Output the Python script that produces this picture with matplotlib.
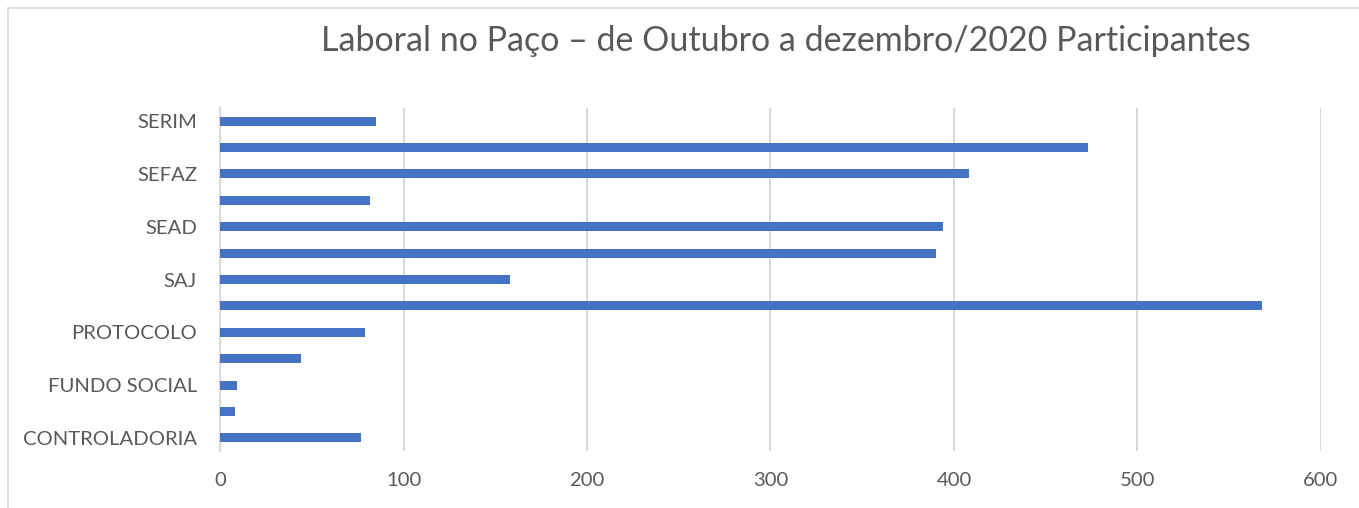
import matplotlib.pyplot as plt
from matplotlib.lines import Line2D

# Dados do gráfico (de baixo para cima, como no Excel)
rotulos = ["CONTROLADORIA", "", "FUNDO SOCIAL", "", "PROTOCOLO", "", "SAJ",
           "", "SEAD", "", "SEFAZ", "", "SERIM"]
participantes = [77, 8, 9, 44, 79, 568, 158, 390, 394, 82, 408, 473, 85]
ticks_x = [0, 100, 200, 300, 400, 500, 600]

TITULO = "Laboral no Paço – de Outubro a dezembro/2020 Participantes"
AZUL = "#4472C4"
CINZA_TEXTO = "#595959"
CINZA_GRADE = "#D9D9D9"

plt.rcParams['font.family'] = ['Lato', 'DejaVu Sans']

fig = plt.figure(figsize=(13.59, 5.08), dpi=100)
ax = fig.add_axes([0.1619, 0.1122, 0.9720 - 0.1619, 0.7874 - 0.1122])

posicoes = list(range(len(rotulos)))
ax.barh(posicoes, participantes, height=0.34, color=AZUL, zorder=3)

ax.set_xlim(0, 600)
ax.set_ylim(-0.5, len(rotulos) - 0.5)
ax.set_xticks(ticks_x)
ax.set_xticklabels([str(t) for t in ticks_x])
ax.set_yticks(posicoes)
ax.set_yticklabels(rotulos)

ax.tick_params(axis='both', length=0, colors=CINZA_TEXTO, labelsize=14.6)
ax.tick_params(axis='x', pad=15)
ax.tick_params(axis='y', pad=16.5)

ax.grid(axis='x', color=CINZA_GRADE, linewidth=1.5, zorder=0)
for lado in ['top', 'right', 'bottom']:
    ax.spines[lado].set_visible(False)
ax.spines['left'].set_color(CINZA_GRADE)
ax.spines['left'].set_linewidth(1.5)

fig.text(0.578, 0.92, TITULO, ha='center', va='center', fontsize=24.5, color=CINZA_TEXTO)

# moldura do gráfico (bordas superior e esquerda visíveis)
fig.add_artist(Line2D([0.006, 1.0], [0.984, 0.984], color=CINZA_GRADE, linewidth=1.2))
fig.add_artist(Line2D([0.006, 0.006], [0.0, 0.984], color=CINZA_GRADE, linewidth=1.2))

fig.savefig("out.png", dpi=100)
